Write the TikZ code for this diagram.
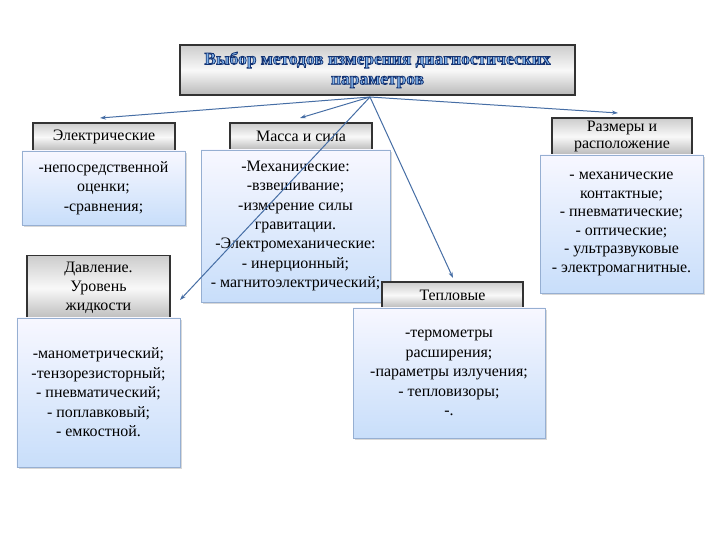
\documentclass[tikz,border=0pt]{standalone}
\usepackage{fontspec}
\setmainfont{Liberation Serif}
\usetikzlibrary{arrows.meta,shadows}
\definecolor{arrowblue}{RGB}{70,110,165}
\definecolor{boxblue}{RGB}{200,222,250}
\definecolor{boxedge}{RGB}{150,175,210}
\definecolor{titleblue}{RGB}{130,180,235}
\newcommand\outlined[1]{\special{pdf:literal direct 2 Tr 0.8 w 0.08 0.2 0.45 RG}#1\special{pdf:literal direct 0 Tr}}

\begin{document}
\begin{tikzpicture}[x=1bp,y=-1bp,
    head/.style={draw=black!80,line width=1.2bp,top color=gray!40,bottom color=gray!55,middle color=gray!5,
      align=center,inner sep=0pt,font=\rmfamily\fontsize{16}{19}\selectfont},
    body/.style={draw=boxedge,line width=0.8bp,top color=blue!3,bottom color=boxblue,align=center,inner sep=0pt,
      font=\rmfamily\fontsize{16}{19.5}\selectfont,drop shadow={opacity=0.3,shadow xshift=2bp,shadow yshift=-2bp}},
    link/.style={arrowblue,line width=1bp,-{Stealth[length=6bp,width=4bp]}}]
      \fill[white] (0,0) rectangle (720,540);
      \useasboundingbox (0,0) rectangle (720,540);

      % title
      \node[head,minimum width=395bp,minimum height=50bp,text=titleblue,font=\fontsize{17.5}{20}\selectfont\bfseries] (title)
        at (377.5,70) {\outlined{Выбор методов измерения диагностических}\\\outlined{параметров}};

      % left column
      \node[head,minimum width=142bp,minimum height=28bp] (elec) at (104,137) {Электрические};
      \node[body,minimum width=163bp,minimum height=74bp] (elecbody) at (103.5,188)
        {-непосредственной\\оценки;\\-сравнения;};

      \node[head,minimum width=143bp,minimum height=65bp] (press) at (98.5,288) {Давление.\\Уровень\\жидкости};
      \node[body,minimum width=163bp,minimum height=149bp] (pressbody) at (98.5,392.5)
        {-манометрический;\\-тензорезисторный;\\- пневматический;\\- поплавковый;\\- емкостной.};

      % middle
      \node[head,minimum width=142bp,minimum height=27bp] (mass) at (301,136.5) {Масса и сила};
      \node[body,minimum width=189bp,minimum height=152bp] (massbody) at (295.5,226)
        {-Механические:\\-взвешивание;\\-измерение силы\\гравитации.\\-Электромеханические:\\- инерционный;\\- магнитоэлектрический;};

      \node[head,minimum width=141bp,minimum height=26bp] (heat) at (452.5,295) {Тепловые};
      \node[body,minimum width=192bp,minimum height=130bp] (heatbody) at (449,373)
        {-термометры\\расширения;\\-параметры излучения;\\- тепловизоры;\\-.};

      % right
      \node[head,minimum width=140bp,minimum height=37bp,font=\rmfamily\fontsize{16}{17}\selectfont] (size) at (622,136.5)
        {Размеры и\\расположение};
      \node[body,minimum width=163bp,minimum height=138bp,font=\rmfamily\fontsize{16}{18.5}\selectfont] (sizebody) at (621.5,224)
        {- механические\\контактные;\\- пневматические;\\- оптические;\\- ультразвуковые\\- электромагнитные.};

      % arrows
      \coordinate (src) at (370,97);
      \coordinate (toelec) at (100,118);
      \coordinate (tomass) at (300,118);
      \coordinate (topress) at (180,300);
      \coordinate (toheat) at (453,278);
      \coordinate (tosize) at (618,113);
      \draw[link] (src) -- (toelec);
      \draw[link] (src) -- (tomass);
      \draw[link] (src) -- (topress);
      \draw[link] (src) -- (toheat);
      \draw[link] (src) -- (tosize);
    \end{tikzpicture}
\end{document}
